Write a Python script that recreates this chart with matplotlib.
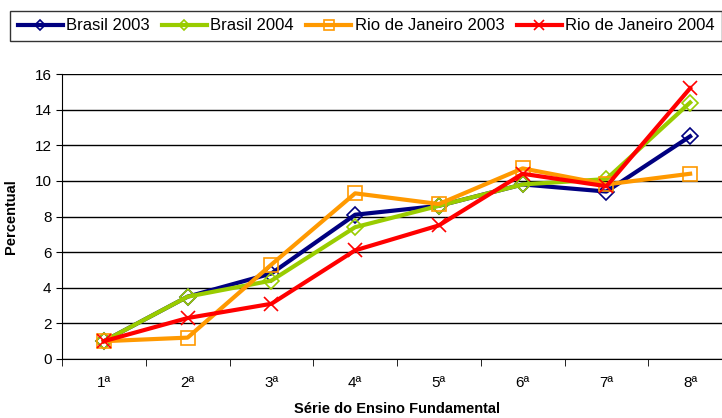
import numpy as np
import matplotlib.pyplot as plt
from matplotlib.ticker import FixedLocator

plt.rcParams['font.family'] = ['Liberation Sans', 'DejaVu Sans']

# Data
series_labels = ['1ª', '2ª', '3ª', '4ª', '5ª', '6ª', '7ª', '8ª']
brasil_2003 = [1.0, 3.5, 4.8, 8.1, 8.6, 9.8, 9.4, 12.5]
brasil_2004 = [1.0, 3.5, 4.4, 7.4, 8.6, 9.8, 10.1, 14.4]
rio_2003 = [1.0, 1.2, 5.3, 9.3, 8.7, 10.7, 9.8, 10.4]
rio_2004 = [1.0, 2.3, 3.1, 6.1, 7.5, 10.4, 9.7, 15.2]

x = np.arange(len(series_labels))

fig = plt.figure(figsize=(7.22, 4.18), dpi=100)
ax = fig.add_axes([62 / 722, 59 / 418, 670 / 722, 285 / 418])

ax.plot(x, brasil_2003, color='#000080', lw=3, marker='D', ms=8, mfc='none',
        mec='#000080', mew=1.2, label='Brasil 2003', zorder=3)
ax.plot(x, brasil_2004, color='#99CC00', lw=3, marker='D', ms=8, mfc='none',
        mec='#99CC00', mew=1.2, label='Brasil 2004', zorder=4)
ax.plot(x, rio_2003, color='#FF9900', lw=3, marker='s', ms=10, mfc='none',
        mec='#FF9900', mew=1.2, label='Rio de Janeiro 2003', zorder=5)
ax.plot(x, rio_2004, color='#FF0000', lw=3, marker='x', ms=10,
        mec='#FF0000', mew=1.2, label='Rio de Janeiro 2004', zorder=6)

ax.set_xlim(-0.5, len(series_labels) - 0.5)
ax.set_ylim(0, 16)
ax.set_yticks(range(0, 17, 2))
ax.yaxis.grid(True, color='black', lw=1)
ax.set_axisbelow(True)

ax.set_xticks(x)
ax.set_xticklabels(series_labels, fontsize=11)
ax.tick_params(axis='x', which='major', length=0, pad=12)
ax.xaxis.set_minor_locator(FixedLocator(np.arange(-0.5, len(series_labels), 1)))
ax.tick_params(axis='x', which='minor', length=5, direction='out', color='black')
ax.tick_params(axis='y', length=4, direction='out', labelsize=11, color='black')

for s in ['top', 'right']:
    ax.spines[s].set_visible(False)
ax.spines['left'].set_color('black')
ax.spines['bottom'].set_color('black')

ax.set_xlabel('Série do Ensino Fundamental', fontsize=10.5, fontweight='bold', labelpad=9)
ax.set_ylabel('Percentual', fontsize=10.5, fontweight='bold', labelpad=12)

fig.legend(loc='upper left', bbox_to_anchor=(10 / 722, 1 - 11 / 418), ncol=4,
           frameon=True, fancybox=False, edgecolor='black', fontsize=12,
           handlelength=2.7, handletextpad=0.2, columnspacing=0.75,
           borderpad=0.45, borderaxespad=0, markerscale=0.7)

fig.savefig('out.png', dpi=100)
